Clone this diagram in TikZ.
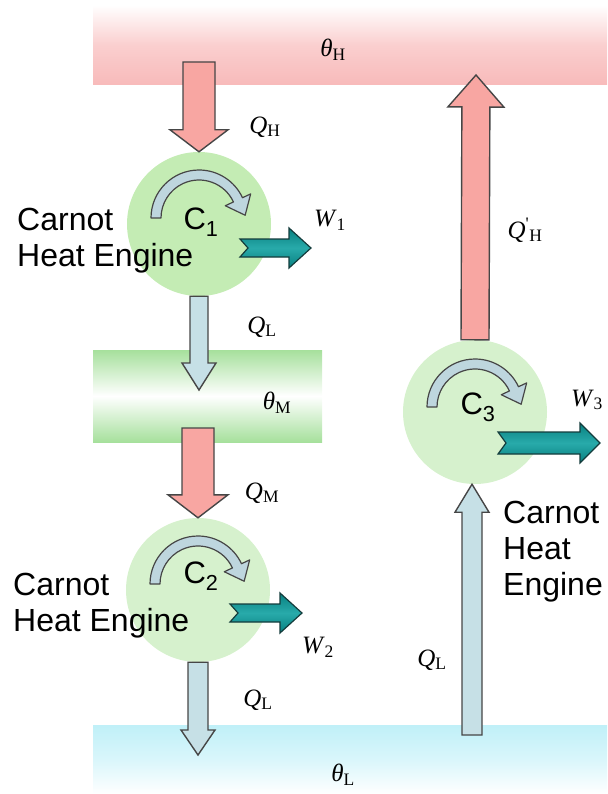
\documentclass[tikz,border=0pt]{standalone}
\usepackage{fontspec}
\setsansfont{Liberation Sans}
\newfontfamily\labelfont{Liberation Serif}
\usepackage{tikz}
\usetikzlibrary{calc, positioning}
\usepackage{xcolor}
\definecolor{pinkres}{RGB}{248,186,186}
\definecolor{greenres}{RGB}{166,224,156}
\definecolor{blueres}{RGB}{192,240,248}
\definecolor{engbright}{RGB}{196,236,180}
\definecolor{engpale}{RGB}{214,241,205}
\definecolor{heatpink}{RGB}{248,166,162}
\definecolor{coolblue}{RGB}{198,224,230}
\definecolor{arrowline}{RGB}{70,70,70}
\definecolor{tealdark}{RGB}{8,128,128}
\definecolor{teallight}{RGB}{40,170,170}
\definecolor{tealline}{RGB}{20,60,60}
\definecolor{turnfill}{RGB}{190,214,222}
\newcommand{\tsym}[2]{\textit{#1}\textsubscript{#2}}

\tikzset{
  blockarrow/.style args={#1/#2/#3/#4}{to path={
    ($(\tikztostart)!#1!90:(\tikztotarget)$)
    -- ($($(\tikztotarget)!#3!(\tikztostart)$)!#1!90:(\tikztotarget)$)
    -- ($($(\tikztotarget)!#3!(\tikztostart)$)!#2!90:(\tikztotarget)$)
    -- (\tikztotarget)
    -- ($($(\tikztotarget)!#3!(\tikztostart)$)!#2!-90:(\tikztotarget)$)
    -- ($($(\tikztotarget)!#3!(\tikztostart)$)!#1!-90:(\tikztotarget)$)
    -- ($(\tikztostart)!#1!-90:(\tikztotarget)$)
    -- ($(\tikztostart)!#4!(\tikztotarget)$)
    -- cycle}},
  turnarrow/.pic={
    \draw[draw=arrowline, line width=1.2pt, fill=turnfill, line join=round]
      (180:48pt) arc[start angle=180, end angle=25, radius=48pt]
      -- (25:57pt) -- ($(25:43pt)+(-65:17pt)$) -- (25:29pt) -- (25:38pt)
      arc[start angle=25, end angle=180, radius=38pt] -- cycle;
  }
}

\begin{document}
\begin{tikzpicture}[x=1pt, y=-1pt,
    engine/.style={circle, minimum size=144pt, inner sep=0pt, draw=none},
    band/.style={rectangle, inner sep=0pt, draw=none},
    heatin/.style={draw=arrowline, line width=1.4pt, fill=heatpink},
    heatout/.style={draw=arrowline, line width=1.4pt, fill=coolblue},
    work/.style={draw=tealline, line width=1.2pt, top color=tealdark,
                 bottom color=tealdark, middle color=teallight},
    lbl/.style={inner sep=0pt, font=\labelfont\fontsize{25}{28}\selectfont},
    txt/.style={align=left, inner sep=0pt, font=\sffamily\fontsize{32}{36}\selectfont}]
    \useasboundingbox (0,0) rectangle (607,794);

    % reservoirs
    \node[band, minimum width=514pt, minimum height=80pt, top color=white,
          bottom color=pinkres, middle color=pinkres!70] (resH) at (350,45) {};
    \node[band, minimum width=229pt, minimum height=92pt, top color=greenres,
          bottom color=greenres, middle color=white]     (resM) at (207.5,396) {};
    \node[band, minimum width=514pt, minimum height=69pt, top color=blueres,
          bottom color=white, middle color=blueres!60]   (resL) at (350,759.5) {};

    % engines
    \node[engine, fill=engbright] (c1) at (199,224) {};
    \node[engine, fill=engpale]   (c2) at (198,590) {};
    \node[engine, fill=engpale]   (c3) at (475,412) {};
    \pic (t1) at ([yshift=6pt]c1.center) {turnarrow};
    \pic (t2) at ([yshift=6pt]c2.center) {turnarrow};
    \pic (t3) at ([yshift=5pt]c3.center) {turnarrow};

    % free ends
    \coordinate (qhtop)  at (199,62);
    \coordinate (ql1end) at (199,390);
    \coordinate (qmtop)  at (198,428);
    \coordinate (ql2end) at (198,755);
    \coordinate (qhpend) at (476,75);
    \coordinate (ql3bot) at (472,735);
    \coordinate (w1a) at (240,248);  \coordinate (w1b) at (311,248);
    \coordinate (w2a) at (230,613);  \coordinate (w2b) at (302,613);
    \coordinate (w3a) at (498,443);  \coordinate (w3b) at (600,443);

    % heat flows
    \draw[heatin,  blockarrow=16pt/29pt/22pt/0pt] (qhtop) to (c1.north);
    \draw[heatout, blockarrow=9pt/17pt/27pt/0pt]  (c1.south) to (ql1end);
    \draw[heatin,  blockarrow=16pt/30pt/23pt/0pt] (qmtop) to (c2.north);
    \draw[heatout, blockarrow=10pt/17pt/25pt/0pt] (c2.south) to (ql2end);
    \draw[heatin,  blockarrow=14pt/28pt/32pt/0pt] (c3.north) to (qhpend);
    \draw[heatout, blockarrow=10pt/17pt/28pt/0pt] (ql3bot) to (ql3bot |- c3.south);

    % work
    \draw[work, blockarrow=9pt/20pt/22pt/8pt]  (w1a) to (w1b);
    \draw[work, blockarrow=9pt/20pt/22pt/8pt]  (w2a) to (w2b);
    \draw[work, blockarrow=11pt/20pt/20pt/8pt] (w3a) to (w3b);

    % engine names
    \node[font=\sffamily\fontsize{31}{36}\selectfont, inner sep=0pt] (n1) at (201,222) {C\textsubscript{1}};
    \node[font=\sffamily\fontsize{31}{36}\selectfont, inner sep=0pt] (n2) at (201,576) {C\textsubscript{2}};
    \node[font=\sffamily\fontsize{31}{36}\selectfont, inner sep=0pt] (n3) at (478,407) {C\textsubscript{3}};
    \node[txt, anchor=north west] (e1) at (17,208) {Carnot\\Heat Engine};
    \node[txt, anchor=north west] (e2) at (13,573) {Carnot\\Heat Engine};
    \node[txt, anchor=north west] (e3) at (503,501) {Carnot\\Heat\\Engine};

    % labels
    \node[lbl] (lth) at (333,50)  {\tsym{θ}{H}};
    \node[lbl] (ltm) at (277,403) {\tsym{θ}{M}};
    \node[lbl] (ltl) at (343,775) {\tsym{θ}{L}};
    \node[lbl] (lqh) at (265,127) {\tsym{Q}{H}};
    \node[lbl] (lql1) at (262,327) {\tsym{Q}{L}};
    \node[lbl] (lqm) at (262,493) {\tsym{Q}{M}};
    \node[lbl] (lql2) at (258,700) {\tsym{Q}{L}};
    \node[lbl] (lql3) at (432,660) {\tsym{Q}{L}};
    \node[lbl] (lqhp) at (525,230) {\textit{Q}\textsuperscript{'}\textsubscript{H}};
    \node[lbl] (lw1) at (330,220) {\tsym{W}{1}};
    \node[lbl] (lw2) at (318,647) {\tsym{W}{2}};
    \node[lbl] (lw3) at (587,400) {\tsym{W}{3}};
\end{tikzpicture}
\end{document}
